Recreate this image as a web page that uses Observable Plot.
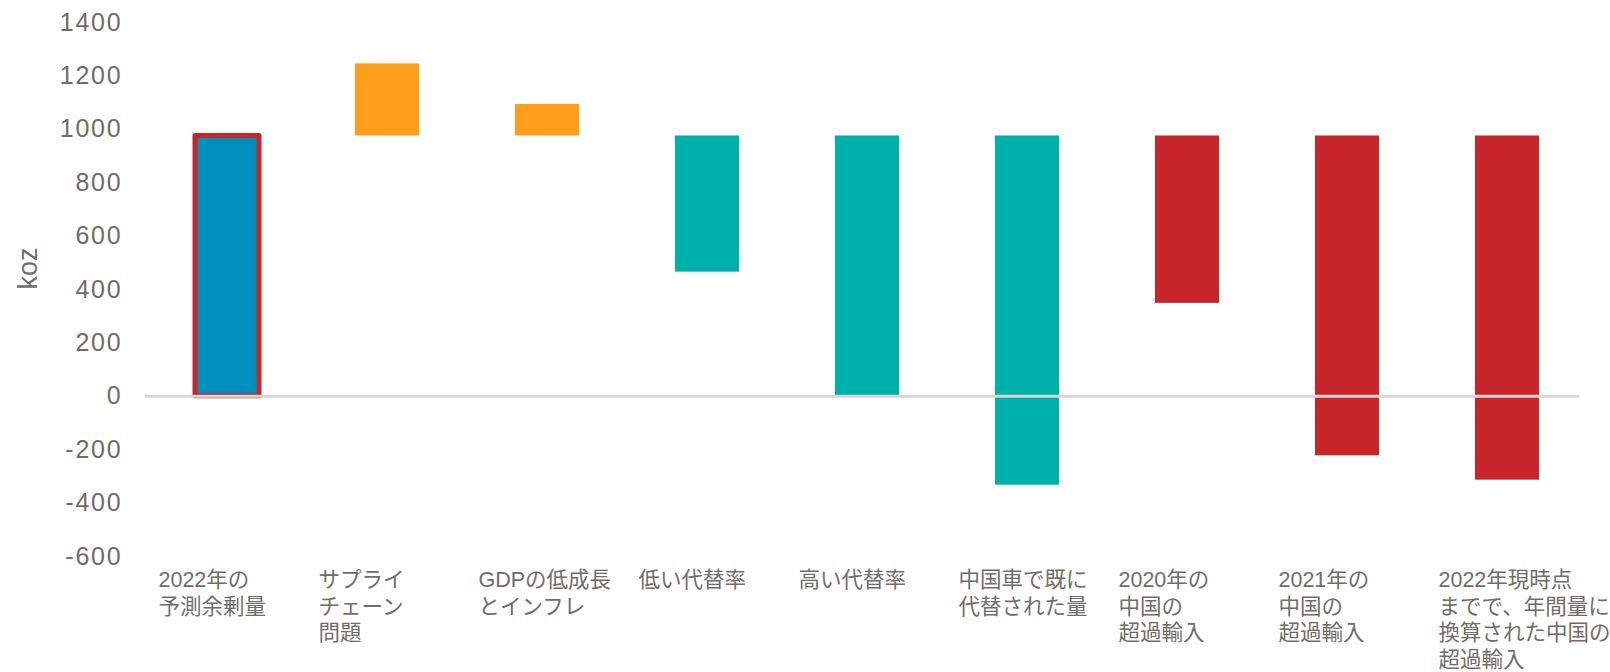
<!DOCTYPE html>
<html><head><meta charset="utf-8">
<script src="https://cdn.jsdelivr.net/npm/d3@7"></script>
<script src="https://cdn.jsdelivr.net/npm/@observablehq/plot@0.6"></script>
<style>
html,body{margin:0;padding:0;background:#fff}
#chart{position:absolute;left:0;top:0}
</style>
</head><body><div id="chart"></div>
<script>
// --- data ---
const categories = ["予測余剰量","サプライチェーン問題","GDPの低成長とインフレ","低い代替率","高い代替率","中国車で既に代替された量","2020年の中国の超過輸入","2021年の中国の超過輸入","2022年の中国の超過輸入"];
const labels = [
  "2022年の\n予測余剰量",
  "サプライ\nチェーン\n問題",
  "GDPの低成長\nとインフレ",
  "低い代替率",
  "高い代替率",
  "中国車で既に\n代替された量",
  "2020年の\n中国の\n超過輸入",
  "2021年の\n中国の\n超過輸入",
  "2022年現時点\nまでで、年間量に\n換算された中国の\n超過輸入"
];
const groups = ["余剰","供給","供給","代替","代替","代替","輸入","輸入","輸入"];
const startValues = [0, 975, 975, 975, 975, 975, 975, 975, 975];
const endValues = [975, 1245, 1093, 465, 0, -333, 348, -223, -314];
const yTicks = [-600, -400, -200, 0, 200, 400, 600, 800, 1000, 1200, 1400];
const yLabel = "koz";
const groupDomain = ["余剰","供給","代替","輸入"];
const groupColors = ["#0090BE","#FF9E1B","#00B0AA","#C8252B"];

const data = categories.map((c, i) => ({category: c, group: groups[i], y1: startValues[i], y2: endValues[i]}));
const textColor = "#716c66";

const plot = Plot.plot({
  width: 1610,
  height: 672,
  marginTop: 22,
  marginBottom: 116,
  marginLeft: 145,
  marginRight: 22,
  style: {fontFamily: "'Liberation Sans', Arial, 'Noto Sans CJK JP', sans-serif", background: "#fff", overflow: "visible"},
  x: {domain: categories, paddingInner: 0.6, paddingOuter: 0.3},
  y: {domain: [-600, 1400]},
  color: {domain: groupDomain, range: groupColors},
  marks: [
    Plot.barY(data.filter(d => d.group !== "余剰"), {x: "category", y1: "y1", y2: "y2", fill: "group"}),
    Plot.barY(data.filter(d => d.group === "余剰"), {x: "category", y1: "y1", y2: "y2", fill: "group", stroke: "#C8252B", strokeWidth: 5, strokeLinejoin: "round"}),
    Plot.ruleY([0], {stroke: "#d6d6d6", strokeWidth: 3, insetRight: 9}),
    Plot.axisY({ticks: yTicks, tickFormat: d => String(d), tickSize: 0, tickPadding: 23, fontSize: 25, label: null, fill: textColor, color: textColor}),
    Plot.axisX({tickSize: 0, tickPadding: 12, fontSize: 21.5, textAnchor: "start", dx: -69, lineHeight: 1.23, lineWidth: Infinity,
      tickFormat: c => labels[categories.indexOf(c)], label: null, fill: textColor, color: textColor,
      fontFamily: "'Liberation Sans', 'Noto Sans CJK JP', sans-serif"}),
    Plot.text([yLabel], {frameAnchor: "left", rotate: -90, dx: -117, fontSize: 27, fill: textColor})
  ]
});
document.getElementById("chart").appendChild(plot);
plot.querySelectorAll('g[aria-label="y-axis tick label"] text').forEach(t => t.style.letterSpacing = "1.8px");
</script>
</body></html>
